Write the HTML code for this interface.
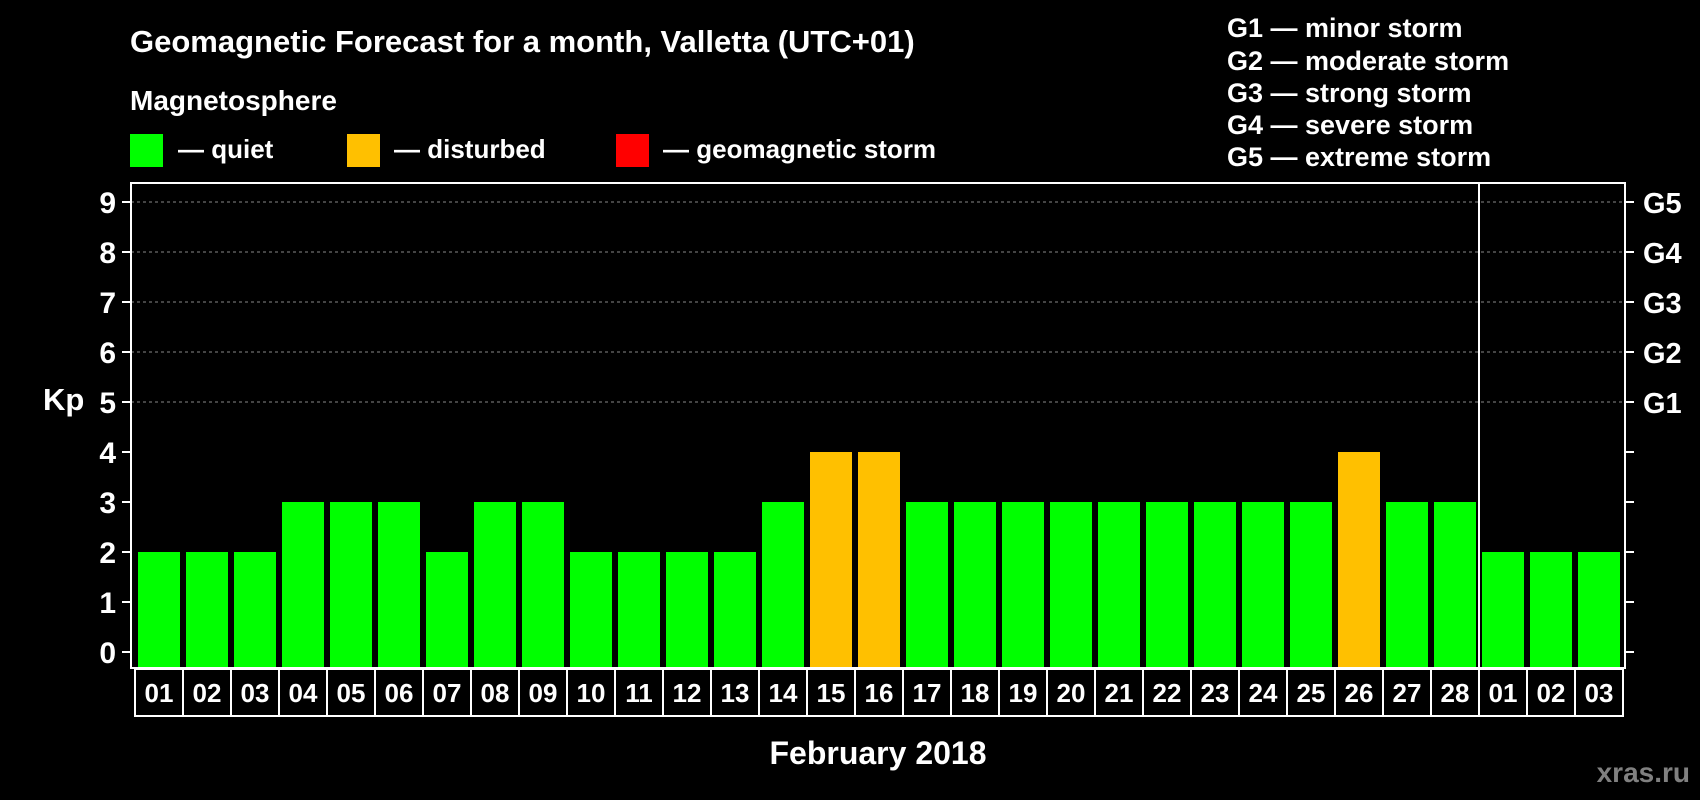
<!DOCTYPE html>
<html><head><meta charset="utf-8"><style>
html,body{margin:0;padding:0;background:#000;}
svg{display:block;font-family:"Liberation Sans",sans-serif;font-weight:bold;}
</style></head><body>
<svg id="chart" width="1700" height="800" viewBox="0 0 1700 800">
<rect x="0" y="0" width="1700" height="800" fill="#000"/>
<text x="130" y="52" font-size="31" fill="#fff">Geomagnetic Forecast for a month, Valletta (UTC+01)</text>
<text x="130" y="110" font-size="28" fill="#fff">Magnetosphere</text>
<g><rect x="130" y="134" width="33" height="33" fill="#00ff00"/><text x="178" y="158" font-size="26" fill="#fff">— quiet</text></g>
<g><rect x="347" y="134" width="33" height="33" fill="#ffc000"/><text x="394" y="158" font-size="26" fill="#fff">— disturbed</text></g>
<g><rect x="616" y="134" width="33" height="33" fill="#ff0000"/><text x="663" y="158" font-size="26" fill="#fff">— geomagnetic storm</text></g>
<g font-size="27" fill="#fff">
<text x="1227" y="37">G1 — minor storm</text>
<text x="1227" y="70">G2 — moderate storm</text>
<text x="1227" y="102">G3 — strong storm</text>
<text x="1227" y="134">G4 — severe storm</text>
<text x="1227" y="166">G5 — extreme storm</text>
</g>
<text x="43" y="410" font-size="31" fill="#fff">Kp</text>
<text x="878" y="764" font-size="32" fill="#fff" text-anchor="middle">February 2018</text>
<text x="1690" y="782" font-size="28" fill="#808080" text-anchor="end">xras.ru</text>
<g id="grid"></g><g id="bars"></g><g id="axes"></g>
</svg>
<script>
const days=["01","02","03","04","05","06","07","08","09","10","11","12","13","14","15","16","17","18","19","20","21","22","23","24","25","26","27","28","01","02","03"];
const kp=[2,2,2,3,3,3,2,3,3,2,2,2,2,3,4,4,3,3,3,3,3,3,3,3,3,4,3,3,2,2,2];
const yTicks=[0,1,2,3,4,5,6,7,8,9];
const gLabels=["G1","G2","G3","G4","G5"];
const gLevels=[5,6,7,8,9];
const monthEndIndex=28;
const NS="http://www.w3.org/2000/svg";
const x0=135,step=48,y0=652,unit=50,plotTop=183,plotLeft=131,plotRight=1625;
const xs=i=>x0+i*step;
const ys=v=>y0-v*unit;
function mk(t,a,p){const e=document.createElementNS(NS,t);for(const k in a)e.setAttribute(k,a[k]);p.appendChild(e);return e;}
const grid=document.getElementById('grid'),bars=document.getElementById('bars'),axes=document.getElementById('axes');
gLevels.forEach((v,i)=>{
 const l=mk('line',{x1:plotLeft,x2:plotRight,y1:ys(v),y2:ys(v),stroke:'#888','stroke-width':1,'stroke-dasharray':'3,3'},grid);
 
 
 const t=mk('text',{x:1643,y:ys(v)+11,'font-size':29,fill:'#fff'},axes);t.textContent=gLabels[i];
 
 
});
kp.forEach((v,i)=>{
 const c=v>=5?'#ff0000':(v>=4?'#ffc000':'#00ff00');
 const r=mk('rect',{x:xs(i)+3,y:ys(v),width:42,height:ys(0)-ys(v)+16,fill:c},bars);
 
 
 const b=mk('rect',{x:xs(i),y:669,width:step,height:47,fill:'#000',stroke:'#fff','stroke-width':2},axes);
 
 
 const t=mk('text',{x:xs(i)+step/2,y:702,'font-size':26,fill:'#fff','text-anchor':'middle'},axes);t.textContent=days[i];
 
 
});
const fr=mk('rect',{x:plotLeft,y:plotTop,width:plotRight-plotLeft,height:668-plotTop,fill:'none',stroke:'#fff','stroke-width':2},axes);


const sep=mk('line',{x1:xs(monthEndIndex),x2:xs(monthEndIndex),y1:plotTop,y2:716,stroke:'#fff','stroke-width':2},axes);


yTicks.forEach(v=>{
 mk('line',{x1:122,x2:plotLeft,y1:ys(v),y2:ys(v),stroke:'#fff','stroke-width':2},axes);
 mk('line',{x1:plotRight,x2:1634,y1:ys(v),y2:ys(v),stroke:'#fff','stroke-width':2},axes);
 const t=mk('text',{x:116,y:ys(v)+11,'font-size':30,fill:'#fff','text-anchor':'end'},axes);t.textContent=v;
 
 
});
</script>
</body></html>
